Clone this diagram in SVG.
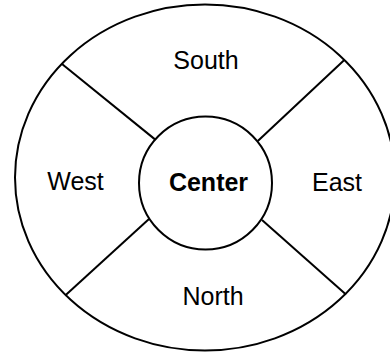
<svg xmlns="http://www.w3.org/2000/svg" width="390" height="352" viewBox="0 0 390 352">
<style>
.s{fill:none;stroke:#000;stroke-width:2}
.t{font-family:"Liberation Sans",Arial,sans-serif;font-size:25px;fill:#000;text-anchor:middle}
.b{font-weight:bold}
</style>
<rect width="390" height="352" fill="#fff"/>
<g id="outer"><ellipse class="s" cx="205" cy="177.5" rx="190" ry="173"/></g>
<g id="connectors">
<line class="s" x1="62" y1="64" x2="155" y2="139.4"/>
<line class="s" x1="344.3" y1="60" x2="257.8" y2="141.1"/>
<line class="s" x1="149" y1="219" x2="65.2" y2="295.5"/>
<line class="s" x1="262" y1="220" x2="346" y2="294.6"/>
</g>
<g id="south"><text class="t" x="206" y="69">South</text></g>
<g id="west"><text class="t" x="75.5" y="190">West</text></g>
<g id="east"><text class="t" x="337" y="191">East</text></g>
<g id="north"><text class="t" x="213" y="305">North</text></g>
<g id="center"><circle class="s" cx="205.5" cy="183" r="66.5"/><text class="t b" x="208.5" y="191">Center</text></g>
</svg>
